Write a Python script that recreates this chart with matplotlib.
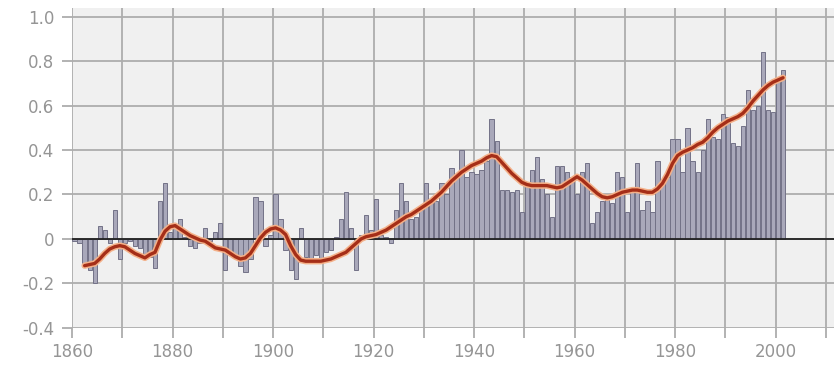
import numpy as np
import matplotlib
matplotlib.use("Agg")
import matplotlib.pyplot as plt

# annual anomalies, 1861-2002
years = np.arange(1861, 2003)
anomaly = [
    -0.01, -0.02, -0.11, -0.14, -0.20, 0.06, 0.04, -0.02, 0.13, -0.09,
    -0.02, -0.01, -0.03, -0.04, -0.07, -0.08, -0.13, 0.17, 0.25, 0.03,
    0.05, 0.09, 0.01, -0.03, -0.04, -0.02, 0.05, -0.01, 0.03, 0.07,
    -0.14, -0.06, -0.08, -0.12, -0.15, -0.09, 0.19, 0.17, -0.03, 0.02,
    0.20, 0.09, -0.05, -0.14, -0.18, 0.05, -0.08, -0.10, -0.07, -0.09,
    -0.06, -0.05, 0.01, 0.09, 0.21, 0.05, -0.14, 0.02, 0.11, 0.04,
    0.18, 0.02, 0.01, -0.02, 0.13, 0.25, 0.17, 0.09, 0.10, 0.13,
    0.25, 0.18, 0.17, 0.25, 0.20, 0.32, 0.28, 0.40, 0.28, 0.30,
    0.29, 0.31, 0.35, 0.54, 0.44, 0.22, 0.22, 0.21, 0.22, 0.12,
    0.24, 0.31, 0.37, 0.27, 0.20, 0.10, 0.33, 0.33, 0.30, 0.28,
    0.20, 0.30, 0.34, 0.07, 0.12, 0.17, 0.18, 0.16, 0.30, 0.28,
    0.12, 0.22, 0.34, 0.13, 0.17, 0.12, 0.35, 0.25, 0.28, 0.45,
    0.45, 0.30, 0.50, 0.35, 0.30, 0.40, 0.54, 0.46, 0.45, 0.56,
    0.55, 0.43, 0.42, 0.51, 0.67, 0.58, 0.60, 0.84, 0.58, 0.57,
    0.72, 0.76,
]

# smoothed curve, 1863-2002
smooth_years = np.arange(1863, 2003)
smooth = [
    -0.120, -0.115, -0.110, -0.090, -0.065, -0.045, -0.035, -0.030,
    -0.035, -0.050, -0.065, -0.075, -0.085, -0.070, -0.060, -0.005,
    0.035, 0.055, 0.060, 0.045, 0.030, 0.015, 0.005, -0.005,
    -0.010, -0.025, -0.040, -0.045, -0.050, -0.065, -0.080, -0.090,
    -0.085, -0.065, -0.030, 0.005, 0.030, 0.045, 0.050, 0.040,
    0.020, -0.030, -0.070, -0.095, -0.100, -0.100, -0.100, -0.100,
    -0.095, -0.090, -0.080, -0.070, -0.060, -0.040, -0.020, 0.000,
    0.010, 0.015, 0.020, 0.030, 0.040, 0.055, 0.070, 0.085,
    0.100, 0.110, 0.125, 0.140, 0.155, 0.170, 0.190, 0.210,
    0.235, 0.260, 0.280, 0.300, 0.315, 0.330, 0.340, 0.350,
    0.365, 0.375, 0.370, 0.345, 0.320, 0.295, 0.275, 0.255,
    0.245, 0.240, 0.240, 0.240, 0.240, 0.235, 0.230, 0.235,
    0.250, 0.265, 0.280, 0.265, 0.245, 0.225, 0.205, 0.190,
    0.185, 0.190, 0.200, 0.210, 0.215, 0.220, 0.220, 0.215,
    0.210, 0.210, 0.225, 0.250, 0.290, 0.340, 0.375, 0.390,
    0.400, 0.410, 0.425, 0.435, 0.455, 0.480, 0.500, 0.515,
    0.530, 0.540, 0.550, 0.565, 0.590, 0.620, 0.645, 0.670,
    0.690, 0.705, 0.715, 0.725,
]

xticks = [1860, 1880, 1900, 1920, 1940, 1960, 1980, 2000]
yticks = [-0.4, -0.2, 0, 0.2, 0.4, 0.6, 0.8, 1.0]
ylabels = ['-0.4', '-0.2', '0', '0.2', '0.4', '0.6', '0.8', '1.0']

grid_c = '#adadad'
text_c = '#959595'

fig = plt.figure(figsize=(8.38, 3.66), dpi=100)
ax = fig.add_axes([0.086, 0.104, 0.909, 0.875])
ax.set_facecolor('#f0f0f0')

ax.bar(years - 0.5, anomaly, width=0.85, color='#a9a8ba',
       edgecolor='#737287', linewidth=0.7, zorder=2)
ax.axhline(0, color='#222222', lw=1.3, zorder=3)
ax.plot(smooth_years - 0.5, smooth, color='#f4b088', lw=4.6,
        solid_capstyle='round', zorder=4)
ax.plot(smooth_years - 0.5, smooth, color='#a52e18', lw=2.4,
        solid_capstyle='round', zorder=5)

ax.set_xlim(1860, 2011.6)
ax.set_ylim(-0.4, 1.04)
ax.set_xticks(np.arange(1860, 2011, 10))
ax.set_xticklabels([str(y) if y in xticks else '' for y in range(1860, 2011, 10)])
ax.set_yticks(yticks)
ax.set_yticklabels(ylabels)
ax.grid(True, color=grid_c, lw=1.3, zorder=1)
ax.set_axisbelow(True)
for s in ax.spines.values():
    s.set_visible(False)
ax.tick_params(axis='both', colors=grid_c, width=1.3, length=7,
               labelcolor=text_c, labelsize=12)
ax.tick_params(axis='y', pad=6)
ax.tick_params(axis='x', pad=4)

fig.savefig('out.png', dpi=100, facecolor='white')
